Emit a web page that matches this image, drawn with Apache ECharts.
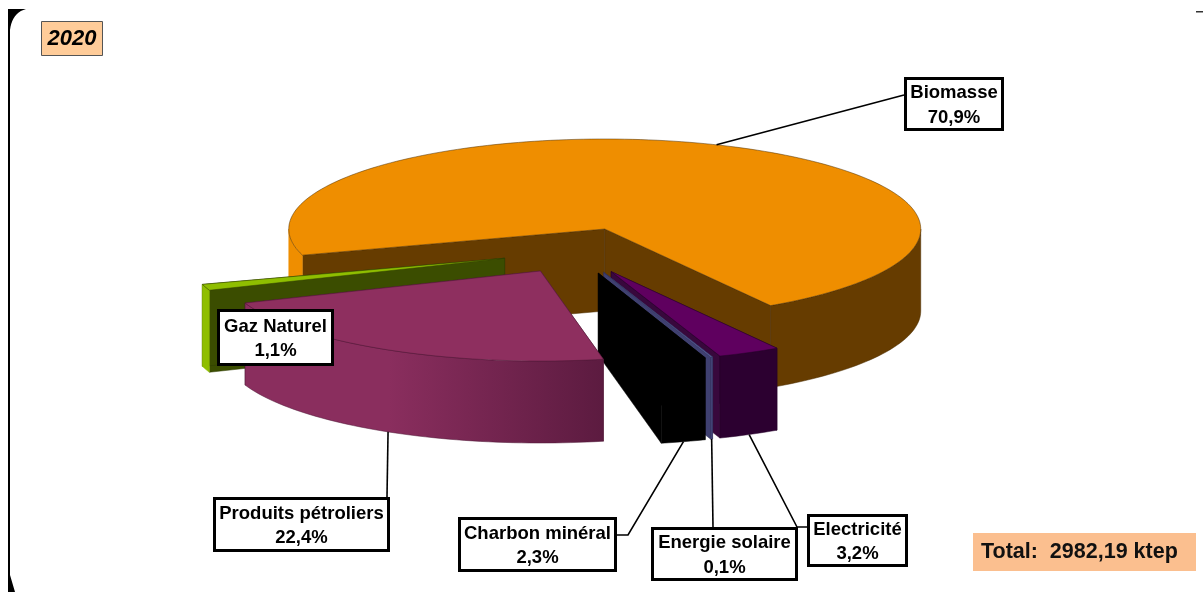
<!DOCTYPE html>
<html>
<head>
<meta charset="utf-8">
<style>html,body{margin:0;padding:0;background:#fff}#c{width:1203px;height:592px}</style>
<script src="https://cdn.jsdelivr.net/npm/echarts@6/dist/echarts.min.js"></script>
</head>
<body>
<div id="c"></div>
<script>
// ---- data ----
const categories = ['Biomasse', 'Electricité', 'Energie solaire', 'Charbon minéral', 'Produits pétroliers', 'Gaz Naturel'];
const shares = [70.9, 3.2, 0.1, 2.3, 22.4, 1.1];
const yearLabel = '2020';
const totalLabel = 'Total:  2982,19 ktep';

// ---- styles ----
const topColors  = ['#ef8e00', '#5f005f', '#5b5f9a', '#000000', '#8e2f5f', '#8fbe00'];
const faceColors = ['#663c00', '#38083c', '#3f4070', '#000000', '#6e2349', '#3b4d00'];
const wallRight  = ['#663c00', '#2c0030', '#45457a', '#000000', '#5c1b40', '#8fbe00'];
const wallLeft   = ['#ef8e00', '#2c0030', '#45457a', '#000000', '#8a2e5e', '#8fbe00'];
const edgeColors = ['#4a2c00', '#26002a', '#33335c', '#000000', '#4f1836', '#2f3d00'];
const wallGradient = [false, false, false, false, true, false];
const drawOrder  = [0, 1, 2, 3, 5, 4];
const labelBoxes = [[904,77,100,54],[807,514,101,53],[651,527,147,54],[458,517,159,55],[213,497,177,55],[217,309,117,57]];
const leaderEnds = [[[904,95]],[[797,527],[807,527]],[[713,527]],[[628,535],[617,535]],[[387,497]],null];

// ---- layout of the projected pie ----
const CX = 605.5, CY = 229, RX = 316, RY = 90, DEPTH = 82;
const START_DEG = -196.9;           // parametric angle where the first slice starts
const rad = d => d * Math.PI / 180;
const totalShare = shares.reduce((a, b) => a + b, 0);

function sliceAngles(i) {
  let a = START_DEG;
  for (let k = 0; k < i; k++) a += shares[k] / totalShare * 360;
  return [a, a + shares[i] / totalShare * 360];
}
function apexOf(i) {
  const [a, b] = sliceAngles(i), m = rad((a + b) / 2);
  return [CX + 77 * Math.cos(m) - 28, CY + 23.2 * Math.sin(m) + 21.7];
}
function rim(apex, deg, drop) {
  return [apex[0] + RX * Math.cos(rad(deg)), apex[1] + RY * Math.sin(rad(deg)) + (drop || 0)];
}
function arcPoints(apex, a, b, drop) {
  const pts = [], n = Math.max(2, Math.ceil(Math.abs(b - a) / 1.5));
  for (let j = 0; j <= n; j++) pts.push(rim(apex, a + (b - a) * j / n, drop));
  return pts;
}
function poly(points, fill, stroke, z2) {
  return { type: 'polygon', z2, shape: { points }, style: { fill, stroke, lineWidth: 0.5 } };
}
function frontSegments(a, b) {
  const segs = [];
  [[-360, -180], [0, 180], [360, 540]].forEach(w => {
    const s = Math.max(a, w[0]), e = Math.min(b, w[1]);
    if (e > s) segs.push([s, e]);
  });
  return segs;
}
function renderSlice(params, api) {
  const i = params.dataIndex;
  api.value(0);
  const [a, b] = sliceAngles(i), apex = apexOf(i);
  const base = drawOrder.indexOf(i) * 10 + 1;
  const stroke = edgeColors[i];
  const children = [];
  const lowApex = [apex[0], apex[1] + DEPTH];
  // radial cut faces
  [a, b].forEach(t => {
    const o = rim(apex, t), ol = rim(apex, t, DEPTH);
    children.push(poly([apex, o, ol, lowApex], faceColors[i], stroke, base));
  });
  // outer wall
  frontSegments(a, b).forEach(seg => {
    const pts = arcPoints(apex, seg[0], seg[1]).concat(arcPoints(apex, seg[1], seg[0], DEPTH));
    let fill;
    if (wallGradient[i]) {
      fill = new echarts.graphic.LinearGradient(0, 0, 1, 0, [
        { offset: 0, color: wallLeft[i] }, { offset: 0.4, color: wallLeft[i] }, { offset: 1, color: wallRight[i] }
      ]);
    } else {
      fill = Math.cos(rad((seg[0] + seg[1]) / 2)) < 0 ? wallLeft[i] : wallRight[i];
    }
    children.push(poly(pts, fill, fill === topColors[i] ? fill : stroke, base + 1));
  });
  // top face
  children.push(poly([apex].concat(arcPoints(apex, a, b)), topColors[i], stroke, base + 2));
  return { type: 'group', children };
}

// ---- labels, leaders, frame ----
const FONT = '"Liberation Sans", Arial, sans-serif';
function valueText(v) { return v.toFixed(1).replace('.', ',') + '%'; }
function quad(p0, c, p1) {
  const out = [];
  for (let j = 0; j <= 10; j++) {
    const t = j / 10, u = 1 - t;
    out.push([u * u * p0[0] + 2 * u * t * c[0] + t * t * p1[0], u * u * p0[1] + 2 * u * t * c[1] + t * t * p1[1]]);
  }
  return out;
}
const graphics = [];
categories.forEach((name, i) => {
  const box = labelBoxes[i], ends = leaderEnds[i];
  const [a, b] = sliceAngles(i), mid = (a + b) / 2, apex = apexOf(i);
  if (ends) {
    const back = Math.sin(rad(mid)) < 0;
    const start = rim(apex, mid, back ? 0 : DEPTH);
    graphics.push({ type: 'polyline', z: 20, shape: { points: [start].concat(ends) },
      style: { fill: null, stroke: '#000', lineWidth: 1.6 } });
  }
  graphics.push({ type: 'rect', z: 21, shape: { x: box[0] + 1.5, y: box[1] + 1.5, width: box[2] - 3, height: box[3] - 3 },
    style: { fill: '#fff', stroke: '#000', lineWidth: 3 } });
  graphics.push({ type: 'text', z: 22, x: box[0] + box[2] / 2, y: box[1] + box[3] / 2 + 1.5,
    style: { text: name + '\n' + valueText(shares[i]), font: 'bold 18.5px ' + FONT, lineHeight: 24.5,
      fill: '#000', align: 'center', verticalAlign: 'middle' } });
});
graphics.push({ type: 'rect', z: 21, shape: { x: 41.5, y: 21.5, width: 61, height: 34 },
  style: { fill: '#ffcc99', stroke: '#555', lineWidth: 1 } });
graphics.push({ type: 'text', z: 22, x: 72, y: 39, style: { text: yearLabel, font: 'italic bold 22px ' + FONT,
  fill: '#000', align: 'center', verticalAlign: 'middle' } });
graphics.push({ type: 'rect', z: 21, shape: { x: 973, y: 533, width: 223, height: 38 }, style: { fill: '#fbbf8f' } });
graphics.push({ type: 'text', z: 22, x: 981, y: 552, style: { text: totalLabel, font: 'bold 21.5px ' + FONT,
  fill: '#111', align: 'left', verticalAlign: 'middle' } });
// rounded panel frame, only its left edge and corners remain in view
const framePoints = [[8, 9], [26, 9]].concat(quad([26, 9], [12, 13], [10, 30]), [[10, 575]], [[15, 592], [8, 592]]);
graphics.push({ type: 'polygon', z: 5, shape: { points: framePoints }, style: { fill: '#000' } });
graphics.push({ type: 'rect', z: 5, shape: { x: 1196, y: 11, width: 7, height: 1.5 }, style: { fill: '#333' } });

const chart = echarts.init(document.getElementById('c'), null, { renderer: 'canvas' });
chart.setOption({
  animation: false,
  backgroundColor: '#fff',
  graphic: graphics,
  series: [{
    type: 'custom',
    coordinateSystem: 'none',
    renderItem: renderSlice,
    data: shares.map((v, i) => ({ name: categories[i], value: [v] })),
    silent: true,
    z: 10
  }]
});
</script>
</body>
</html>
